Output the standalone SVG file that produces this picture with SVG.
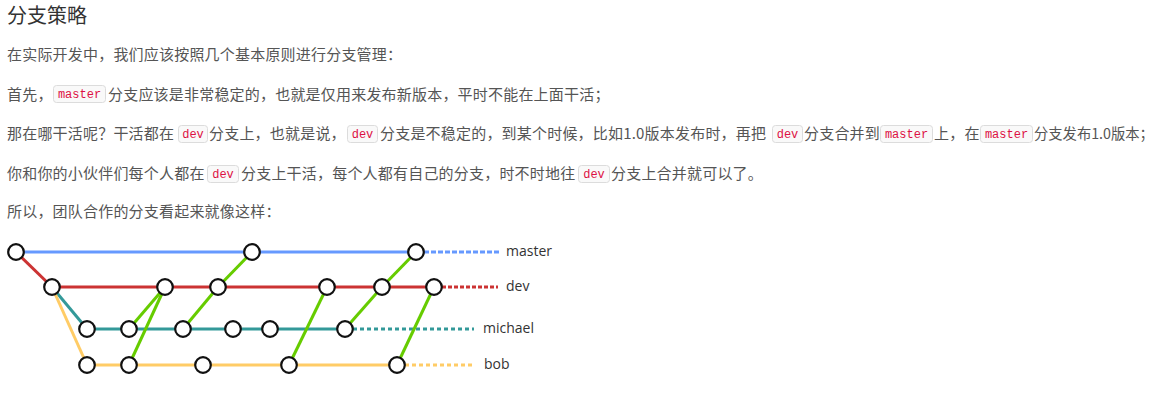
<svg xmlns="http://www.w3.org/2000/svg" width="1159" height="400" viewBox="0 0 1159 400">
<style>
.title{font-family:"Noto Sans CJK SC","Liberation Sans",sans-serif;font-size:20px;fill:#333}
.t{font-family:"Noto Sans CJK SC","Liberation Sans",sans-serif;font-size:15px;letter-spacing:0.2px;fill:#555}
.cb{fill:#f9f9f9;stroke:#dcdcdc;stroke-width:1}
.ct{font-family:"Liberation Mono",monospace;font-size:12px;fill:#dd1144;text-anchor:middle}
.l{fill:none;stroke-width:3;stroke-linecap:butt}
.blue{stroke:#6699ff}.red{stroke:#cc3333}.teal{stroke:#339999}.yel{stroke:#ffcc66}.grn{stroke:#66cc00}
.node{fill:#fff;stroke:#111;stroke-width:2.2}
.lab{font-family:"Open Sans","Liberation Sans",sans-serif;font-size:14px;fill:#333}
</style>
<rect width="1159" height="400" fill="#fff"/>
<g id="text">
<text class="title" x="7" y="23">分支策略</text>
<text class="t" x="7" y="60">在实际开发中，我们应该按照几个基本原则进行分支管理：</text>
<text class="t" x="7" y="100">首先，</text>
<rect class="cb" x="53.5" y="85.5" width="52" height="17" rx="3"/>
<text class="ct" x="79.5" y="98">master</text>
<text class="t" x="108" y="100">分支应该是非常稳定的，也就是仅用来发布新版本，平时不能在上面干活；</text>
<text class="t" x="7" y="139">那在哪干活呢？干活都在</text>
<rect class="cb" x="178.5" y="125.5" width="29" height="17" rx="3"/>
<text class="ct" x="193" y="138">dev</text>
<text class="t" x="209" y="139">分支上，也就是说，</text>
<rect class="cb" x="347.5" y="125.5" width="30" height="17" rx="3"/>
<text class="ct" x="362.5" y="138">dev</text>
<text class="t" x="380" y="139">分支是不稳定的，到某个时候，比如1.0版本发布时，再把</text>
<rect class="cb" x="772.5" y="125.5" width="30" height="17" rx="3"/>
<text class="ct" x="787.5" y="138">dev</text>
<text class="t" x="804" y="139">分支合并到</text>
<rect class="cb" x="880.5" y="125.5" width="52" height="17" rx="3"/>
<text class="ct" x="906.5" y="138">master</text>
<text class="t" x="934" y="139">上，在</text>
<rect class="cb" x="980.5" y="125.5" width="52" height="17" rx="3"/>
<text class="ct" x="1006.5" y="138">master</text>
<text class="t" x="1034" y="139" style="font-size:14.3px;letter-spacing:0">分支发布1.0版本；</text>
<text class="t" x="7" y="179">你和你的小伙伴们每个人都在</text>
<rect class="cb" x="207.5" y="165.5" width="31" height="17" rx="3"/>
<text class="ct" x="223" y="178">dev</text>
<text class="t" x="241" y="179">分支上干活，每个人都有自己的分支，时不时地往</text>
<rect class="cb" x="578.5" y="165.5" width="31" height="17" rx="3"/>
<text class="ct" x="594" y="178">dev</text>
<text class="t" x="611" y="179">分支上合并就可以了。</text>
<text class="t" x="7" y="217">所以，团队合作的分支看起来就像这样：</text>
</g>
<g id="connectors">
<line class="l blue" x1="16" y1="252" x2="416" y2="252"/>
<line class="l blue" x1="424" y1="252" x2="499" y2="252" stroke-dasharray="5,2"/>
<line class="l red" x1="16" y1="252" x2="52" y2="287"/>
<line class="l red" x1="52" y1="287" x2="434" y2="287"/>
<line class="l red" x1="442" y1="287" x2="498" y2="287" stroke-dasharray="4,2"/>
<line class="l teal" x1="52" y1="287" x2="87" y2="329"/>
<line class="l teal" x1="87" y1="329" x2="345" y2="329"/>
<line class="l teal" x1="353" y1="329" x2="474" y2="329" stroke-dasharray="4,3"/>
<line class="l yel" x1="52" y1="287" x2="87" y2="365"/>
<line class="l yel" x1="87" y1="365" x2="397" y2="365"/>
<line class="l yel" x1="405" y1="365" x2="473" y2="365" stroke-dasharray="4,3"/>
<line class="l grn" x1="129" y1="329" x2="165" y2="287"/>
<line class="l grn" x1="129" y1="365" x2="165" y2="287"/>
<line class="l grn" x1="183" y1="329" x2="218" y2="287"/>
<line class="l grn" x1="218" y1="287" x2="252" y2="252"/>
<line class="l grn" x1="289" y1="365" x2="327" y2="287"/>
<line class="l grn" x1="345" y1="329" x2="382" y2="287"/>
<line class="l grn" x1="382" y1="287" x2="416" y2="252"/>
<line class="l grn" x1="397" y1="365" x2="434" y2="287"/>
</g>
<g id="m1"><circle class="node" cx="16" cy="252" r="7.8"/></g>
<g id="m2"><circle class="node" cx="252" cy="252" r="7.8"/></g>
<g id="m3"><circle class="node" cx="416" cy="252" r="7.8"/></g>
<g id="d1"><circle class="node" cx="52" cy="287" r="7.8"/></g>
<g id="d2"><circle class="node" cx="165" cy="287" r="7.8"/></g>
<g id="d3"><circle class="node" cx="218" cy="287" r="7.8"/></g>
<g id="d4"><circle class="node" cx="327" cy="287" r="7.8"/></g>
<g id="d5"><circle class="node" cx="382" cy="287" r="7.8"/></g>
<g id="d6"><circle class="node" cx="434" cy="287" r="7.8"/></g>
<g id="c1"><circle class="node" cx="87" cy="329" r="7.8"/></g>
<g id="c2"><circle class="node" cx="129" cy="329" r="7.8"/></g>
<g id="c3"><circle class="node" cx="183" cy="329" r="7.8"/></g>
<g id="c4"><circle class="node" cx="233" cy="329" r="7.8"/></g>
<g id="c5"><circle class="node" cx="270" cy="329" r="7.8"/></g>
<g id="c6"><circle class="node" cx="345" cy="329" r="7.8"/></g>
<g id="b1"><circle class="node" cx="87" cy="365" r="7.8"/></g>
<g id="b2"><circle class="node" cx="129" cy="365" r="7.8"/></g>
<g id="b3"><circle class="node" cx="203" cy="365" r="7.8"/></g>
<g id="b4"><circle class="node" cx="289" cy="365" r="7.8"/></g>
<g id="b5"><circle class="node" cx="397" cy="365" r="7.8"/></g>
<g id="labels">
<text class="lab" x="506" y="256">master</text>
<text class="lab" x="506" y="291">dev</text>
<text class="lab" x="483" y="333">michael</text>
<text class="lab" x="484" y="369">bob</text>
</g>
</svg>
